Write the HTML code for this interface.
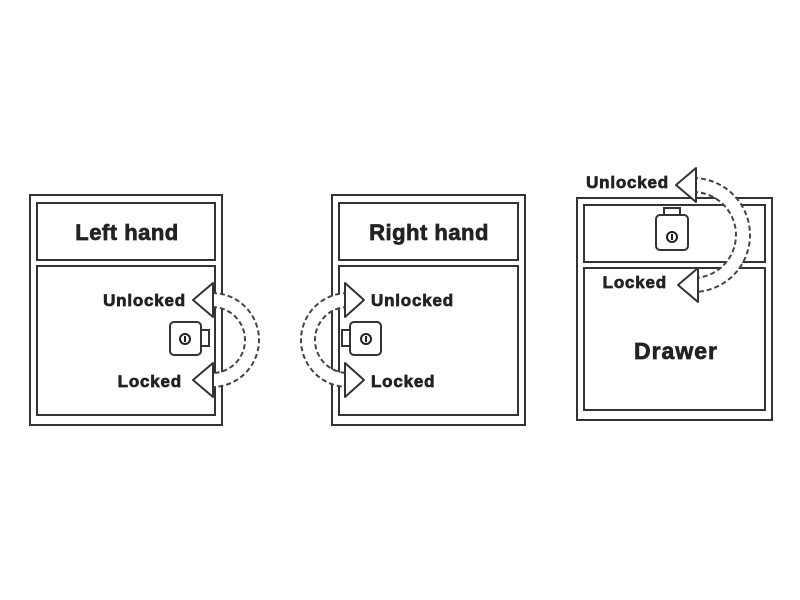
<!DOCTYPE html><html><head><style>body{margin:0;background:#fff}svg{display:block}</style></head><body>
<svg width="800" height="600" xmlns="http://www.w3.org/2000/svg" font-family="Liberation Sans, sans-serif" font-weight="bold">
<g fill="none" stroke="#333" stroke-width="2">
<rect x="30" y="195" width="192" height="230"/><rect x="37" y="203" width="178" height="57"/><rect x="37" y="266" width="178" height="149"/>
<rect x="332" y="195" width="193" height="230"/><rect x="339" y="203" width="179" height="57"/><rect x="339" y="266" width="179" height="149"/>
<rect x="577" y="198" width="195" height="222"/><rect x="584" y="205" width="181" height="57"/><rect x="584" y="268" width="181" height="142"/>
</g>
<g fill="#fff" stroke="#333" stroke-width="2">
<rect x="200" y="330" width="9" height="16"/><rect x="170" y="322" width="31" height="33" rx="4"/>
<rect x="342" y="330" width="9" height="16"/><rect x="350" y="322" width="31" height="33" rx="4"/>
<rect x="664" y="208" width="16" height="8"/><rect x="656" y="215" width="32" height="35" rx="4"/>
</g>
<g fill="#fff" stroke="#222" stroke-width="2">
<circle cx="185" cy="339" r="5"/><circle cx="366" cy="339" r="5"/><circle cx="672" cy="237" r="5"/>
</g>
<g fill="#222"><rect x="184" y="336" width="2" height="6"/><rect x="365" y="336" width="2" height="6"/><rect x="671" y="234" width="2" height="6"/></g>
<g fill="none" stroke="#fff" stroke-width="13">
<path d="M212 300 A40 40 0 0 1 212 380"/><path d="M348 300 A40 40 0 0 0 348 380"/><path d="M693 185 A50 50 0 0 1 693 285"/>
</g>
<g fill="none" stroke="#444" stroke-width="2" stroke-dasharray="5 3">
<path d="M212 293 A47 47 0 0 1 212 387"/><path d="M212 307 A33 33 0 0 1 212 373"/>
<path d="M348 293 A47 47 0 0 0 348 387"/><path d="M348 307 A33 33 0 0 0 348 373"/>
<path d="M693 178 A57 57 0 0 1 693 292"/><path d="M693 192 A43 43 0 0 1 693 278"/>
</g>
<g fill="#fff" stroke="#333" stroke-width="2" stroke-linejoin="round">
<polygon points="193,300 213,283 213,317"/><polygon points="193,380 213,363 213,397"/>
<polygon points="364,300 345,283 345,317"/><polygon points="364,380 345,363 345,397"/>
<polygon points="676,185 696,168 696,202"/><polygon points="678,285 698,268 698,302"/>
</g>
<g fill="#222" stroke="#222" stroke-width="0.7">
<text x="127" y="240" font-size="22" text-anchor="middle" letter-spacing="0.5">Left hand</text>
<text x="429" y="240" font-size="22" text-anchor="middle" letter-spacing="0.5">Right hand</text>
<text x="676" y="359" font-size="23" text-anchor="middle" letter-spacing="1">Drawer</text>
<text x="186" y="306" font-size="17" text-anchor="end" letter-spacing="0.8">Unlocked</text>
<text x="182" y="387" font-size="17" text-anchor="end" letter-spacing="0.8">Locked</text>
<text x="371" y="306" font-size="17" letter-spacing="0.8">Unlocked</text>
<text x="371" y="387" font-size="17" letter-spacing="0.8">Locked</text>
<text x="669" y="188" font-size="17" text-anchor="end" letter-spacing="0.8">Unlocked</text>
<text x="667" y="288" font-size="17" text-anchor="end" letter-spacing="0.8">Locked</text>
</g>
</svg>
</body></html>
